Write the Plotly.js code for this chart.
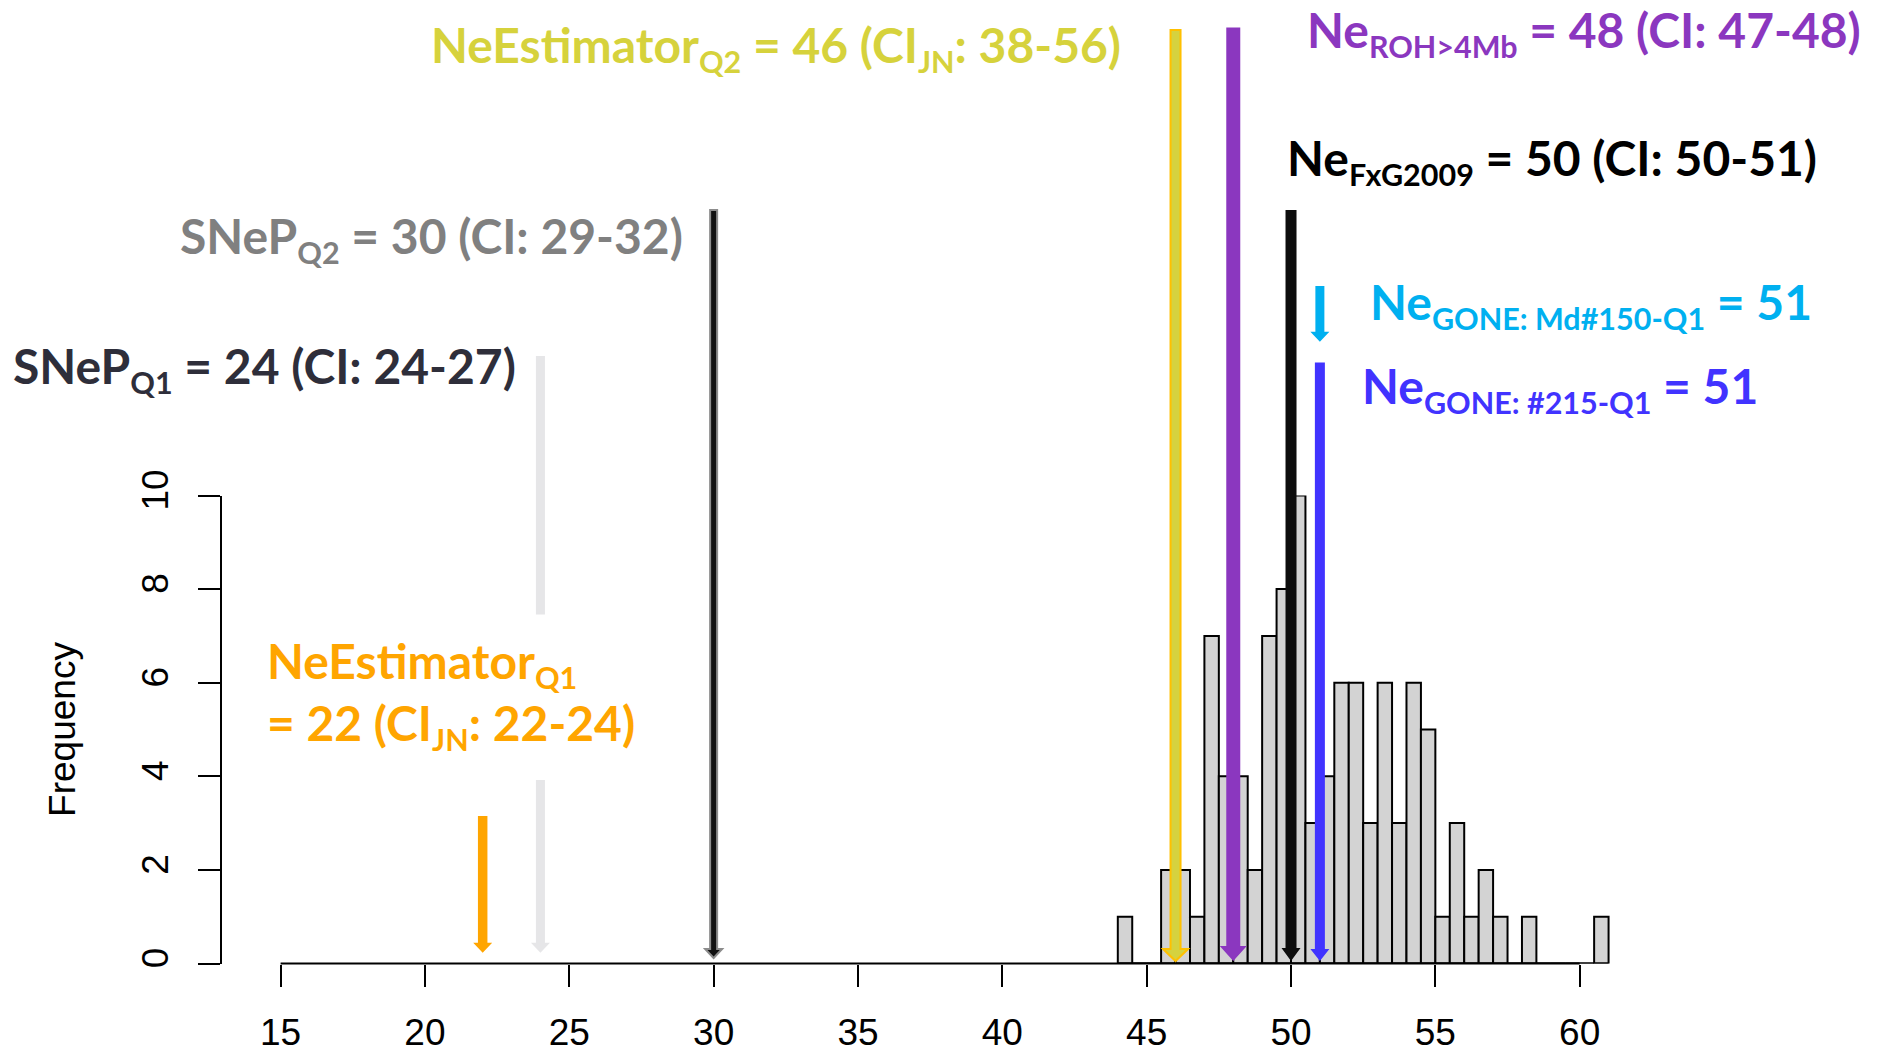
<!DOCTYPE html>
<html>
<head>
<meta charset="utf-8">
<script src="https://cdn.plot.ly/plotly-3.0.1.min.js"></script>
<style>
  html, body { margin: 0; padding: 0; background: #ffffff; }
  #chart { width: 1878px; height: 1054px; }
</style>
</head>
<body>
<div id="chart"></div>
<script>
// Histogram of Ne values (bins of width 0.5)
const binStart = [44, 44.5, 45, 45.5, 46, 46.5, 47, 47.5, 48, 48.5, 49, 49.5,
                  50, 50.5, 51, 51.5, 52, 52.5, 53, 53.5, 54, 54.5, 55, 55.5,
                  56, 56.5, 57, 57.5, 58, 58.5, 59, 59.5, 60, 60.5];
const binCount = [1, 0, 0, 2, 2, 1, 7, 4, 4, 2, 7, 8,
                  10, 3, 4, 6, 6, 3, 6, 3, 6, 5, 1, 3,
                  1, 2, 1, 0, 1, 0, 0, 0, 0, 1];
const binWidth = 0.5;

// Point estimates of Ne and their confidence intervals
const estimators = ['NeEstimator<sub>Q1</sub>', 'SNeP<sub>Q1</sub>', 'SNeP<sub>Q2</sub>',
                    'NeEstimator<sub>Q2</sub>', 'Ne<sub>ROH&gt;4Mb</sub>', 'Ne<sub>FxG2009</sub>',
                    'Ne<sub>GONE: Md#150-Q1</sub>', 'Ne<sub>GONE: #215-Q1</sub>'];
const neValues = [22, 24, 30, 46, 48, 50, 51, 51];
const ciName   = ['CI<sub>JN</sub>', 'CI', 'CI', 'CI<sub>JN</sub>', 'CI', 'CI', null, null];
const ciLow    = [22, 24, 29, 38, 47, 50, null, null];
const ciHigh   = [24, 27, 32, 56, 48, 51, null, null];

// Axis ticks
const xTicks = [15, 20, 25, 30, 35, 40, 45, 50, 55, 60];
const yTicks = [0, 2, 4, 6, 8, 10];

// ---- page geometry (pixels) ----
const W = 1878, H = 1054;
const xFirstTickPx = 280.6, xLastTickPx = 1579.7;   // x = 15 and x = 60
const yBottomPx = 963.5, yTopPx = 495.5;            // y = 0 and y = 10
const yAxisPx = 221;
const px = v => v / W;
const py = v => 1 - v / H;
const yZeroPaper = py(yBottomPx);

// x range is a little wider than the labelled ticks so the last bins fit
const xMin = 13, xMax = 62;
const pxPerUnit = (xLastTickPx - xFirstTickPx) / (xTicks[xTicks.length - 1] - xTicks[0]);
const xDomLeft = xFirstTickPx - (xTicks[0] - xMin) * pxPerUnit;
const xDomRight = xLastTickPx + (xMax - xTicks[xTicks.length - 1]) * pxPerUnit;

// label placement and arrow drawing style, one entry per estimate
const styles = [
  { color: '#ffa500', left: 265, base: 675, wrap: true,
    arrow: { top: 147.5, tip: 10.8, w: 9.5, hw: 19, hh: 10, fill: '#ffa500' } },
  { color: '#2e2e3a', left: 11, base: 381,
    arrow: { top: 607.5, tip: 10.8, w: 9, hw: 19, hh: 10, fill: '#e6e6e8', gap: [183.5, 349] } },
  { color: '#808080', left: 178, base: 251,
    arrow: { top: 753.5, tip: 5.5, w: 7, hw: 17, hh: 9, fill: '#111111', line: '#8c8c8c', lw: 2 } },
  { color: '#d6d23c', left: 429, base: 61,
    arrow: { top: 933.5, tip: 2.5, w: 10, hw: 25, hh: 12, fill: '#d5d23f', line: '#ffc000', lw: 2 } },
  { color: '#8b37bf', left: 1305, base: 45,
    arrow: { top: 936, tip: 2.5, w: 14, hw: 27, hh: 15, fill: '#8b37bf' } },
  { color: '#000000', left: 1285, base: 174,
    arrow: { top: 753.5, tip: 2.5, w: 11, hw: 19, hh: 13, fill: '#0d0d0d' } },
  { color: '#00b0f0', left: 1368, base: 317,
    arrow: { top: 677.5, tip: 621.8, w: 9, hw: 19, hh: 10, fill: '#00b0f0' } },
  { color: '#4133ff', left: 1360, base: 401,
    arrow: { top: 601, tip: 2.5, w: 10, hw: 19, hh: 12, fill: '#4133ff' } }
];

const labelSize = 48, subSize = 30.5;
const styleSubs = t => t.replace(/<sub>/g, '<sub><span style="font-size:' + subSize + 'px">')
                        .replace(/<\/sub>/g, '</span></sub>');

function labelText(i) {
  let t = estimators[i] + (styles[i].wrap ? '<br>' : ' ') + '= ' + neValues[i];
  if (ciName[i]) t += ' (' + ciName[i] + ': ' + ciLow[i] + '-' + ciHigh[i] + ')';
  return styleSubs(t);
}

// block arrow outline, in pixels relative to (value, y = 0)
function arrowPath(a) {
  const w = a.w / 2, h = a.hw / 2, hb = a.tip + a.hh;
  const head = `L${w},${hb} L${h},${hb} L0,${a.tip} L${-h},${hb} L${-w},${hb} Z`;
  if (a.gap) {
    return `M${-w},${a.top} L${w},${a.top} L${w},${a.gap[1]} L${-w},${a.gap[1]} Z ` +
           `M${-w},${a.gap[0]} L${w},${a.gap[0]} ` + head;
  }
  return `M${-w},${a.top} L${w},${a.top} ` + head;
}

// x axis line spanning only the labelled ticks
const axisLine = {
  type: 'line', layer: 'above',
  xref: 'x', yref: 'paper',
  x0: xTicks[0], x1: xTicks[xTicks.length - 1],
  y0: yZeroPaper, y1: yZeroPaper,
  line: { color: '#000000', width: 2 }
};

const arrows = neValues.map((v, i) => {
  const a = styles[i].arrow;
  return {
    type: 'path', layer: 'above',
    xref: 'x', yref: 'paper',
    xsizemode: 'pixel', ysizemode: 'pixel',
    xanchor: v, yanchor: yZeroPaper,
    path: arrowPath(a),
    fillcolor: a.fill,
    line: { color: a.line || a.fill, width: a.lw || 0 }
  };
});

const labelFont = { family: 'Lato, "Open Sans", sans-serif', size: labelSize, weight: 700 };
const annotations = neValues.map((v, i) => {
  const s = styles[i];
  const centre = s.wrap ? s.base + 19 : s.base - 13;
  return {
    xref: 'paper', yref: 'paper',
    x: px(s.left), y: py(centre),
    xanchor: 'left', yanchor: 'middle', align: 'left',
    showarrow: false,
    text: labelText(i),
    font: Object.assign({}, labelFont, { color: s.color })
  };
});

const axisFont = { family: '"Liberation Sans", Arial, Helvetica, sans-serif', size: 37, color: '#000000' };

const traces = [
  {
    type: 'bar',
    x: binStart, y: binCount,
    width: binWidth, offset: 0,
    marker: { color: '#d3d3d3', line: { color: '#000000', width: 2 } },
    hoverinfo: 'x+y'
  },
  {
    // baseline under the empty bins of the histogram
    type: 'scatter', mode: 'lines',
    x: [binStart[0], binStart[binStart.length - 1] + binWidth], y: [0, 0],
    line: { color: '#000000', width: 2 },
    hoverinfo: 'skip'
  }
];

const layout = {
  width: W, height: H,
  margin: { l: 0, r: 0, t: 0, b: 0 },
  paper_bgcolor: '#ffffff', plot_bgcolor: 'rgba(0,0,0,0)',
  showlegend: false,
  bargap: 0,
  xaxis: {
    domain: [px(xDomLeft), px(xDomRight)],
    range: [xMin, xMax],
    anchor: 'y',
    tickmode: 'array', tickvals: xTicks, ticktext: xTicks.map(String),
    ticks: 'outside', ticklen: 22, tickwidth: 2, tickcolor: '#000000',
    showline: false,
    showgrid: false, zeroline: false,
    tickfont: axisFont,
    ticklabelstandoff: 14
  },
  yaxis: {
    domain: [py(yBottomPx), py(yTopPx)],
    range: [yTicks[0], yTicks[yTicks.length - 1]],
    anchor: 'free', position: px(yAxisPx),
    tickmode: 'array', tickvals: yTicks, ticktext: yTicks.map(String),
    ticks: 'outside', ticklen: 22, tickwidth: 2, tickcolor: '#000000',
    showline: true, linewidth: 2, linecolor: '#000000',
    showgrid: false, zeroline: false,
    tickangle: -90,
    tickfont: axisFont,
    ticklabelstandoff: 15,
    title: { text: 'Frequency', font: axisFont, standoff: 47 }
  },
  shapes: [axisLine].concat(arrows),
  annotations: annotations
};

Plotly.newPlot('chart', traces, layout, { staticPlot: true, displayModeBar: false });
</script>
</body>
</html>
